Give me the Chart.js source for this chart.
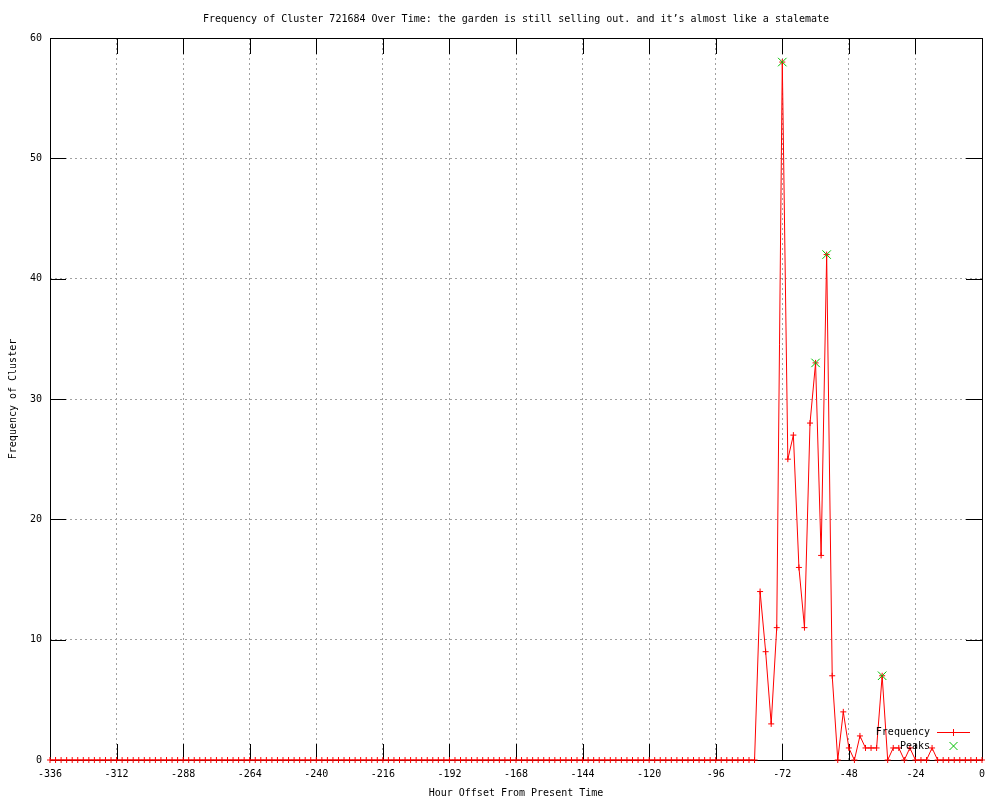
<!DOCTYPE html>
<html>
<head>
<meta charset="utf-8">
<title>Frequency of Cluster 721684</title>
<script src="https://cdn.jsdelivr.net/npm/chart.js@4/dist/chart.umd.min.js"></script>
<style>
    body { margin: 0; background: #fff; }
    #wrap { width: 1000px; height: 800px; }
</style>
</head>
<body>
<div id="wrap"><canvas id="myChart" width="1000" height="800"></canvas></div>
<script>
// hourly offsets, one sample every two hours from -336 up to 0
var startHour = -336;
var stepHours = 2;

// frequency of the cluster at each sample (169 values)
var frequency = [
    0, 0, 0, 0, 0, 0, 0, 0, 0, 0, 0, 0, 0, 0, 0, 0,
    0, 0, 0, 0, 0, 0, 0, 0, 0, 0, 0, 0, 0, 0, 0, 0,
    0, 0, 0, 0, 0, 0, 0, 0, 0, 0, 0, 0, 0, 0, 0, 0,
    0, 0, 0, 0, 0, 0, 0, 0, 0, 0, 0, 0, 0, 0, 0, 0,
    0, 0, 0, 0, 0, 0, 0, 0, 0, 0, 0, 0, 0, 0, 0, 0,
    0, 0, 0, 0, 0, 0, 0, 0, 0, 0, 0, 0, 0, 0, 0, 0,
    0, 0, 0, 0, 0, 0, 0, 0, 0, 0, 0, 0, 0, 0, 0, 0,
    0, 0, 0, 0, 0, 0, 0, 0, 0, 0, 0, 0, 0, 0, 0, 0,
    14, 9, 3, 11, 58, 25, 27, 16, 11, 28, 33, 17, 42, 7, 0, 4,
    1, 0, 2, 1, 1, 1, 7, 0, 1, 1, 0, 1, 0, 0, 0, 1,
    0, 0, 0, 0, 0, 0, 0, 0, 0
];

// detected peaks
var peakHours = [-72, -60, -56, -36];
var peakValues = [58, 33, 42, 7];

// axis ticks
var xTicks = [-336, -312, -288, -264, -240, -216, -192, -168, -144, -120, -96, -72, -48, -24, 0];
var yTicks = [0, 10, 20, 30, 40, 50, 60];

var chartTitle = 'Frequency of Cluster 721684 Over Time: the garden is still selling out. and it\u2019s almost like a stalemate';
var xTitle = 'Hour Offset From Present Time';
var yTitle = 'Frequency of Cluster';
var legendNames = ['Frequency', 'Peaks'];

var monoFont = "'DejaVu Sans Mono', 'Liberation Mono', monospace";
var red = '#ff0000';
var green = '#00c000';

var freqPoints = [];
for (var i = 0; i < frequency.length; i++) {
    freqPoints.push({ x: startHour + i * stepHours, y: frequency[i] });
}
var peakPoints = [];
for (var j = 0; j < peakHours.length; j++) {
    peakPoints.push({ x: peakHours[j], y: peakValues[j] });
}

// gnuplot style frame: inward tick marks and a black border
var framePlugin = {
    id: 'frame',
    afterLayout: function (chart) {
        // center the title over the plot area, like gnuplot does
        if (chart.titleBlock) {
            chart.titleBlock.left = chart.chartArea.left;
            chart.titleBlock.right = chart.chartArea.right;
        }
    },
    beforeDatasetsDraw: function (chart) {
        var ctx = chart.ctx;
        var area = chart.chartArea;
        var xs = chart.scales.x;
        var ys = chart.scales.y;
        var len = 16;
        ctx.save();
        ctx.strokeStyle = '#000';
        ctx.lineWidth = 1;
        ctx.beginPath();
        xTicks.forEach(function (t) {
            var px = Math.round(xs.getPixelForValue(t)) + 0.5;
            ctx.moveTo(px, area.bottom);
            ctx.lineTo(px, area.bottom - len);
            ctx.moveTo(px, area.top);
            ctx.lineTo(px, area.top + len);
        });
        yTicks.forEach(function (t) {
            var py = Math.round(ys.getPixelForValue(t)) + 0.5;
            ctx.moveTo(area.left, py);
            ctx.lineTo(area.left + len, py);
            ctx.moveTo(area.right, py);
            ctx.lineTo(area.right - len, py);
        });
        ctx.stroke();
        ctx.strokeRect(Math.round(area.left) + 0.5, Math.round(area.top) + 0.5,
            Math.round(area.right - area.left), Math.round(area.bottom - area.top));
        ctx.restore();
    },
    afterDatasetsDraw: function (chart) {
        // key in the lower right corner, text on the left of the sample
        var ctx = chart.ctx;
        var area = chart.chartArea;
        var textRight = area.right - 52;
        var sampleLeft = area.right - 45;
        var sampleRight = area.right - 12;
        var mid = (sampleLeft + sampleRight) / 2;
        var row1 = area.bottom - 28;
        var row2 = area.bottom - 14;
        ctx.save();
        ctx.font = '10px ' + monoFont;
        ctx.fillStyle = '#000';
        ctx.textAlign = 'right';
        ctx.textBaseline = 'middle';
        ctx.fillText(legendNames[0], textRight, row1);
        ctx.fillText(legendNames[1], textRight, row2);
        ctx.lineWidth = 1;
        ctx.strokeStyle = red;
        ctx.beginPath();
        ctx.moveTo(sampleLeft, row1 + 0.5);
        ctx.lineTo(sampleRight, row1 + 0.5);
        ctx.moveTo(mid, row1 - 3);
        ctx.lineTo(mid, row1 + 4);
        ctx.stroke();
        ctx.strokeStyle = green;
        ctx.beginPath();
        ctx.moveTo(mid - 4, row2 - 4);
        ctx.lineTo(mid + 4, row2 + 4);
        ctx.moveTo(mid + 4, row2 - 4);
        ctx.lineTo(mid - 4, row2 + 4);
        ctx.stroke();
        ctx.restore();
    }
};

var ctx = document.getElementById('myChart').getContext('2d');
var chart = new Chart(ctx, {
    type: 'line',
    data: {
        datasets: [{
            label: legendNames[0],
            data: freqPoints,
            borderColor: red,
            backgroundColor: red,
            borderWidth: 1,
            pointStyle: 'cross',
            pointRadius: 3,
            pointBorderColor: red,
            pointBorderWidth: 1,
            tension: 0,
            clip: false,
            order: 2
        }, {
            label: legendNames[1],
            data: peakPoints,
            showLine: false,
            pointStyle: 'crossRot',
            pointRadius: 6,
            pointBorderColor: green,
            pointBorderWidth: 1,
            clip: false,
            order: 1
        }]
    },
    options: {
        responsive: false,
        animation: false,
        layout: { padding: { left: 0, right: 18, top: 0, bottom: 0 } },
        plugins: {
            legend: { display: false },
            tooltip: { enabled: false },
            title: {
                display: true,
                text: chartTitle,
                color: '#000',
                font: { family: monoFont, size: 10, weight: 'normal' },
                padding: { top: 13, bottom: 13 }
            }
        },
        scales: {
            x: {
                type: 'linear',
                min: -336,
                max: 0,
                afterFit: function (s) { s.height = 40; },
                afterBuildTicks: function (s) {
                    s.ticks = xTicks.map(function (v) { return { value: v }; });
                },
                ticks: {
                    color: '#000',
                    font: { family: monoFont, size: 10 },
                    maxRotation: 0,
                    autoSkip: false,
                    padding: 8
                },
                grid: { color: '#a0a0a0', lineWidth: 1, drawTicks: false },
                border: { display: false, dash: [2, 3] },
                title: {
                    display: true,
                    text: xTitle,
                    color: '#000',
                    font: { family: monoFont, size: 10 },
                    padding: { top: 0, bottom: 1 }
                }
            },
            y: {
                min: 0,
                max: 60,
                afterFit: function (s) { s.width = 50; },
                afterBuildTicks: function (s) {
                    s.ticks = yTicks.map(function (v) { return { value: v }; });
                },
                ticks: {
                    color: '#000',
                    font: { family: monoFont, size: 10 },
                    padding: 8
                },
                grid: { color: '#a0a0a0', lineWidth: 1, drawTicks: false },
                border: { display: false, dash: [2, 3] },
                title: {
                    display: true,
                    text: yTitle,
                    color: '#000',
                    font: { family: monoFont, size: 10 },
                    padding: { top: 7, bottom: 0 }
                }
            }
        }
    },
    plugins: [framePlugin]
});
</script>
</body>
</html>
